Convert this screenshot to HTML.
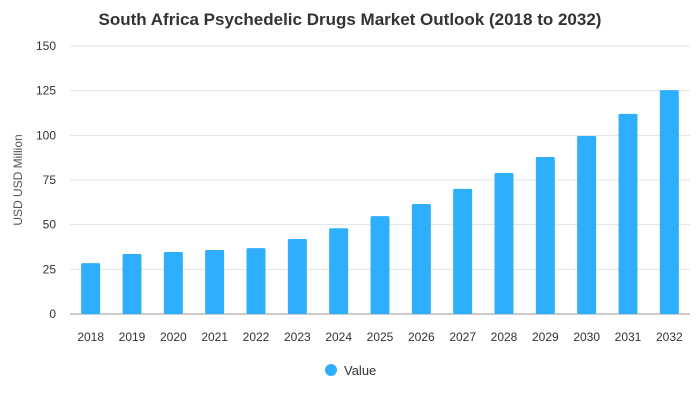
<!DOCTYPE html>
<html><head><meta charset="utf-8"><style>
body{margin:0;background:#fff;font-family:"Liberation Sans",Arial,sans-serif;}
svg text{font-family:"Liberation Sans",Arial,sans-serif;}
</style></head><body>
<svg id="chart" width="700" height="400" viewBox="0 0 700 400">
<text x="350" y="25" text-anchor="middle" font-size="17" font-weight="bold" fill="#333">South Africa Psychedelic Drugs Market Outlook (2018 to 2032)</text>
<text transform="translate(22,180) rotate(-90)" text-anchor="middle" font-size="12" fill="#555">USD USD Million</text>
<g id="grid"></g><g id="bars"></g><g id="xlabels"></g>
<g>
<circle cx="331" cy="370" r="6" fill="#2eaffd"></circle>
<text x="344" y="375" font-size="13" fill="#333">Value</text>
</g>
</svg>
<script>
const categories=["2018","2019","2020","2021","2022","2023","2024","2025","2026","2027","2028","2029","2030","2031","2032"];
const values=[28.5,33.6,34.7,35.8,36.9,42,48,54.8,61.6,70,78.9,87.9,99.6,112,125.3];
const yTicks=[0,25,50,75,100,125,150];
const NS="http://www.w3.org/2000/svg";
const x0=70,x1=690,yTop=46,yBot=314,yMax=150;
const y=v=>yBot-(v/yMax)*(yBot-yTop);
const step=(x1-x0)/categories.length;
const xc=i=>x0+step*(i+0.5);
const grid=document.getElementById('grid'),bars=document.getElementById('bars'),xl=document.getElementById('xlabels');
yTicks.forEach(t=>{
 const l=document.createElementNS(NS,'line');
 
 
 l.setAttribute('x1',x0);l.setAttribute('x2',x1);l.setAttribute('y1',y(t));l.setAttribute('y2',y(t));
 l.setAttribute('stroke',t===0?'#999':'#e3e3e3');l.setAttribute('stroke-width','1');
 grid.appendChild(l);
 const tx=document.createElementNS(NS,'text');
 
 
 tx.setAttribute('x',56);tx.setAttribute('y',y(t)+4);tx.setAttribute('text-anchor','end');
 tx.setAttribute('font-size','12');tx.setAttribute('fill','#333');tx.textContent=t;
 grid.appendChild(tx);
});
categories.forEach((c,i)=>{
 const r=document.createElementNS(NS,'rect');
 
 
 r.setAttribute('x',xc(i)-9.5);r.setAttribute('width',19);
 r.setAttribute('y',y(values[i]));r.setAttribute('height',yBot-y(values[i]));
 r.setAttribute('fill','#2eaffd');r.setAttribute('rx','1.5');
 bars.appendChild(r);
 const t=document.createElementNS(NS,'text');
 
 
 t.setAttribute('x',xc(i));t.setAttribute('y',341);t.setAttribute('text-anchor','middle');
 t.setAttribute('font-size','12');t.setAttribute('fill','#333');t.textContent=c;
 xl.appendChild(t);
});
</script>
</body></html>
